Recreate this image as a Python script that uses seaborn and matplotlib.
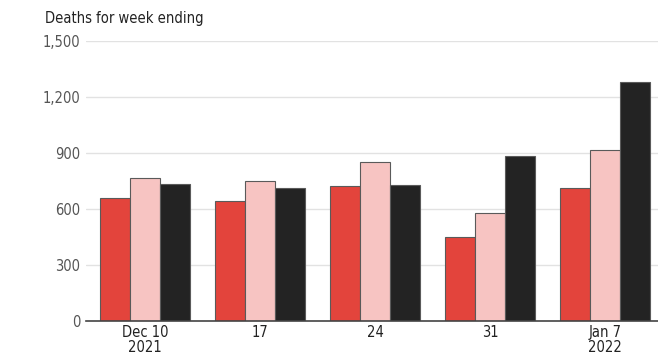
import matplotlib
matplotlib.use("Agg")
import matplotlib.pyplot as plt
import seaborn as sns
import pandas as pd
from matplotlib import font_manager

weeks = ["Dec 10\n2021", "17", "24", "31", "Jan 7\n2022"]
series = ["A", "B", "C"]
vals_a = [659, 641, 721, 452, 711]
vals_b = [766, 752, 850, 580, 918]
vals_c = [734, 712, 730, 886, 1280]
yticks = [0, 300, 600, 900, 1200, 1500]
ytick_labels = ["0", "300", "600", "900", "1,200", "1,500"]
colors = ["#e3443c", "#f7c4c2", "#232323"]

df = pd.DataFrame({
    "week": weeks * 3,
    "series": [s for s in series for _ in weeks],
    "value": vals_a + vals_b + vals_c,
})

sns.set_style("white")
names = sorted({f.name for f in font_manager.fontManager.ttflist})
cond = [f for f in font_manager.fontManager.ttflist if 'ondensed' in f.fname or 'Narrow' in f.fname]
print(names)
print([c.fname for c in cond])
plt.rcParams['font.family'] = ['DejaVu Sans']
plt.rcParams['font.stretch'] = 'condensed'

fig = plt.figure(figsize=(6.58, 3.55), dpi=100)
ax = fig.add_axes([86/658, 34/355, 1 - 86/658, 280/355])

sns.barplot(data=df, x="week", y="value", hue="series", palette=colors,
            width=0.78, ax=ax, legend=False, saturation=1,
            edgecolor="#5a5a5a", linewidth=0.8)

ax.set_ylim(0, 1500)
ax.set_xlim(-0.513, 4.46)
ax.set_yticks(yticks)
ax.set_yticklabels(ytick_labels)
ax.yaxis.grid(True, color="#e2e2e2", linewidth=1)
ax.set_axisbelow(True)
for s in ["top", "right", "left"]:
    ax.spines[s].set_visible(False)
ax.spines["bottom"].set_color("#444444")
ax.spines["bottom"].set_linewidth(1.2)
ax.tick_params(axis="y", length=0, pad=4, labelsize=10.5, labelcolor="#555555")
ax.tick_params(axis="x", length=0, pad=3, labelsize=10.5, labelcolor="#222222")
for lab in ax.get_xticklabels():
    lab.set_linespacing(0.95)
ax.set_xlabel("")
ax.set_ylabel("")

fig.text(45/658, 1 - 18/355, "Deaths for week ending", fontsize=10.5,
         color="#222222", va="center", ha="left")

fig.savefig("out.png", dpi=100)
